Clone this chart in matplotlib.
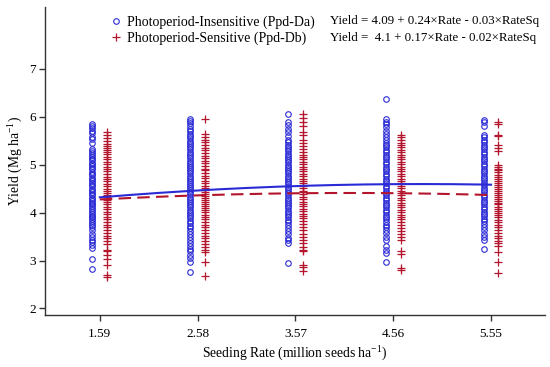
import numpy as np
import matplotlib
matplotlib.use("Agg")
import matplotlib.pyplot as plt

plt.rcParams.update({
    'font.family': 'serif',
    'font.serif': ['Liberation Serif', 'DejaVu Serif'],
    'mathtext.fontset': 'custom',
    'mathtext.rm': 'Liberation Serif',
    'font.size': 9,
})

# ================= Data =================
RATES = [1.59, 2.58, 3.57, 4.56, 5.55]

# Photoperiod-Insensitive (Ppd-Da), yield per seeding rate
DA_159 = [5.85, 5.81, 5.77, 5.71, 5.66, 5.58, 5.54, 5.46, 5.33, 5.29, 5.24, 5.21, 5.17, 5.12, 5.10,
          5.04, 5.01, 4.97, 4.93, 4.90, 4.85, 4.81, 4.78, 4.73, 4.70, 4.66, 4.61, 4.58, 4.55, 4.50,
          4.47, 4.43, 4.39, 4.36, 4.31, 4.28, 4.25, 4.21, 4.17, 4.13, 4.09, 4.05, 4.02, 3.98, 3.93,
          3.90, 3.86, 3.82, 3.79, 3.74, 3.70, 3.63, 3.55, 3.49, 3.42, 3.39, 3.33, 3.26, 3.03, 2.82]
DA_258 = [5.95, 5.91, 5.86, 5.80, 5.74, 5.70, 5.64, 5.60, 5.55, 5.50, 5.46, 5.41, 5.36, 5.32, 5.27,
          5.22, 5.18, 5.13, 5.08, 5.04, 4.99, 4.95, 4.90, 4.86, 4.82, 4.77, 4.73, 4.68, 4.64, 4.59,
          4.55, 4.51, 4.47, 4.42, 4.38, 4.33, 4.29, 4.24, 4.20, 4.15, 4.11, 4.06, 4.02, 3.97, 3.93,
          3.88, 3.83, 3.78, 3.72, 3.67, 3.61, 3.55, 3.49, 3.43, 3.37, 3.31, 3.25, 3.19, 3.12, 3.05,
          2.96, 2.76]
DA_357 = [6.06, 5.88, 5.82, 5.75, 5.68, 5.60, 5.52, 5.47, 5.42, 5.37, 5.33, 5.28, 5.23, 5.19, 5.14,
          5.09, 5.05, 5.00, 4.96, 4.91, 4.86, 4.82, 4.77, 4.73, 4.68, 4.63, 4.59, 4.54, 4.50, 4.45,
          4.41, 4.36, 4.31, 4.27, 4.22, 4.18, 4.13, 4.09, 4.04, 3.99, 3.95, 3.90, 3.85, 3.80, 3.74,
          3.68, 3.62, 3.55, 3.48, 3.42, 3.37, 2.95]
DA_456 = [6.38, 5.95, 5.90, 5.84, 5.78, 5.71, 5.65, 5.58, 5.52, 5.46, 5.41, 5.36, 5.31, 5.26, 5.21,
          5.16, 5.11, 5.06, 5.01, 4.96, 4.91, 4.86, 4.81, 4.76, 4.71, 4.66, 4.61, 4.56, 4.51, 4.46,
          4.41, 4.36, 4.31, 4.26, 4.21, 4.16, 4.11, 4.06, 4.01, 3.96, 3.91, 3.86, 3.81, 3.75, 3.70,
          3.64, 3.58, 3.50, 3.43, 3.30, 3.22, 3.15, 2.96]
DA_555 = [5.94, 5.89, 5.80, 5.62, 5.57, 5.52, 5.47, 5.42, 5.37, 5.32, 5.27, 5.22, 5.17, 5.12, 5.07,
          5.02, 4.97, 4.92, 4.87, 4.82, 4.77, 4.72, 4.67, 4.62, 4.57, 4.52, 4.47, 4.42, 4.37, 4.32,
          4.27, 4.22, 4.17, 4.12, 4.07, 4.02, 3.97, 3.92, 3.87, 3.82, 3.76, 3.70, 3.63, 3.56, 3.50,
          3.43, 3.24]

# Photoperiod-Sensitive (Ppd-Db)
DB_159 = [5.69, 5.62, 5.55, 5.50, 5.44, 5.40, 5.35, 5.31, 5.26, 5.22, 5.17, 5.12, 5.06, 5.01, 4.95,
          4.90, 4.86, 4.81, 4.75, 4.70, 4.66, 4.60, 4.55, 4.50, 4.46, 4.41, 4.36, 4.32, 4.27, 4.22,
          4.18, 4.12, 4.08, 4.02, 3.97, 3.91, 3.86, 3.80, 3.75, 3.70, 3.64, 3.58, 3.52, 3.47, 3.40,
          3.35, 3.21, 3.19, 3.12, 3.03, 2.90, 2.70, 2.66]
DB_258 = [5.96, 5.64, 5.58, 5.52, 5.47, 5.41, 5.35, 5.30, 5.24, 5.19, 5.13, 5.08, 5.03, 4.97, 4.92,
          4.88, 4.82, 4.77, 4.72, 4.66, 4.61, 4.56, 4.51, 4.47, 4.42, 4.38, 4.34, 4.30, 4.26, 4.22,
          4.18, 4.14, 4.10, 4.06, 4.01, 3.96, 3.91, 3.86, 3.81, 3.75, 3.70, 3.64, 3.58, 3.52, 3.46,
          3.40, 3.35, 3.29, 3.22, 3.17, 2.96, 2.67]
DB_357 = [6.06, 5.98, 5.90, 5.80, 5.69, 5.62, 5.52, 5.45, 5.38, 5.32, 5.26, 5.21, 5.16, 5.11, 5.06,
          5.01, 4.96, 4.91, 4.86, 4.81, 4.76, 4.71, 4.66, 4.61, 4.56, 4.51, 4.46, 4.42, 4.38, 4.33,
          4.28, 4.23, 4.18, 4.13, 4.08, 4.03, 3.98, 3.93, 3.88, 3.82, 3.76, 3.70, 3.63, 3.56, 3.49,
          3.42, 3.36, 3.29, 3.23, 3.19, 2.91, 2.86, 2.79]
DB_456 = [5.62, 5.57, 5.51, 5.46, 5.41, 5.36, 5.31, 5.26, 5.21, 5.16, 5.11, 5.06, 5.01, 4.96, 4.91,
          4.86, 4.81, 4.76, 4.71, 4.66, 4.61, 4.56, 4.51, 4.46, 4.41, 4.36, 4.31, 4.26, 4.21, 4.16,
          4.11, 4.06, 4.01, 3.96, 3.91, 3.86, 3.80, 3.74, 3.68, 3.62, 3.56, 3.50, 3.43, 3.19, 3.14,
          2.85, 2.81]
DB_555 = [5.90, 5.84, 5.62, 5.59, 5.42, 5.35, 5.28, 5.00, 4.96, 4.92, 4.88, 4.84, 4.79, 4.75, 4.71,
          4.66, 4.62, 4.57, 4.53, 4.49, 4.45, 4.41, 4.37, 4.33, 4.29, 4.25, 4.21, 4.17, 4.12, 4.08,
          4.04, 3.99, 3.94, 3.90, 3.85, 3.80, 3.75, 3.70, 3.64, 3.58, 3.52, 3.46, 3.40, 3.37, 3.30,
          3.17, 2.96, 2.75]

# fitted curve values read at each seeding rate
FIT_DA = [4.32, 4.46, 4.55, 4.60, 4.58]
FIT_DB = [4.27, 4.37, 4.40, 4.40, 4.37]

LABEL_DA = 'Photoperiod-Insensitive (Ppd-Da)'
LABEL_DB = 'Photoperiod-Sensitive (Ppd-Db)'
EQ_DA = 'Yield = 4.09 + 0.24\u00d7Rate - 0.03\u00d7RateSq'
EQ_DB = 'Yield =  4.1 + 0.17\u00d7Rate - 0.02\u00d7RateSq'

# ================= Style =================
BLUE = '#2a2ad6'
RED = '#b3152d'
AXIS_COLOR = '#333333'
OFFSET = 0.075

fig = plt.figure(figsize=(5.5, 3.67), dpi=100)
ax = fig.add_axes([0.0818, 0.1417, 0.909, 0.8393])

groups_da = [DA_159, DA_258, DA_357, DA_456, DA_555]
groups_db = [DB_159, DB_258, DB_357, DB_456, DB_555]

for i, r in enumerate(RATES):
    y = np.array(groups_da[i])
    ax.plot(np.full(len(y), r - OFFSET), y, linestyle='none', marker='o', ms=4.0,
            mfc='none', mec=BLUE, mew=0.8, zorder=2,
            label=LABEL_DA if i == 0 else None)
for i, r in enumerate(RATES):
    y = np.array(groups_db[i])
    ax.plot(np.full(len(y), r + OFFSET), y, linestyle='none', marker='+', ms=5.5,
            color=RED, mew=0.9, zorder=2,
            label=LABEL_DB if i == 0 else None)

# quadratic curves through the read fit values
xs = np.linspace(RATES[0], RATES[-1], 200)
ax.plot(xs, np.polyval(np.polyfit(RATES, FIT_DA, 2), xs), color=BLUE, lw=1.5, zorder=3)
ax.plot(xs, np.polyval(np.polyfit(RATES, FIT_DB, 2), xs), color=RED, lw=1.5,
        ls=(0, (6, 3)), zorder=3)

ax.set_xlim(1.035, 6.096)
ax.set_ylim(1.864, 8.29)
ax.set_xticks(RATES)
ax.set_xticklabels([f'{r:.2f}' for r in RATES])
ax.set_yticks([2, 3, 4, 5, 6, 7])

for s in ['top', 'right']:
    ax.spines[s].set_visible(False)
for s in ['left', 'bottom']:
    ax.spines[s].set_color(AXIS_COLOR)
    ax.spines[s].set_linewidth(1.0)
ax.tick_params(direction='out', length=4.5, width=1.0, color=AXIS_COLOR,
               labelsize=9.5)
ax.tick_params(axis='x', pad=5)
ax.tick_params(axis='y', pad=2)

ax.set_xlabel('Seeding Rate (million seeds ha$^{-1}$)', fontsize=9.8, labelpad=2)
ax.set_ylabel('Yield (Mg ha$^{-1}$)', fontsize=9.8, labelpad=4)

ax.legend(loc='upper left', bbox_to_anchor=(0.115, 0.995), frameon=False,
          fontsize=10, handlelength=1.0, handletextpad=0.3, labelspacing=0.2,
          borderaxespad=0.1)
fig.text(330 / 550, 1 - 21 / 367, EQ_DA, fontsize=9.3, va='center', ha='left')
fig.text(330 / 550, 1 - 38 / 367, EQ_DB, fontsize=9.3, va='center', ha='left')

plt.savefig('out.png', dpi=100)
